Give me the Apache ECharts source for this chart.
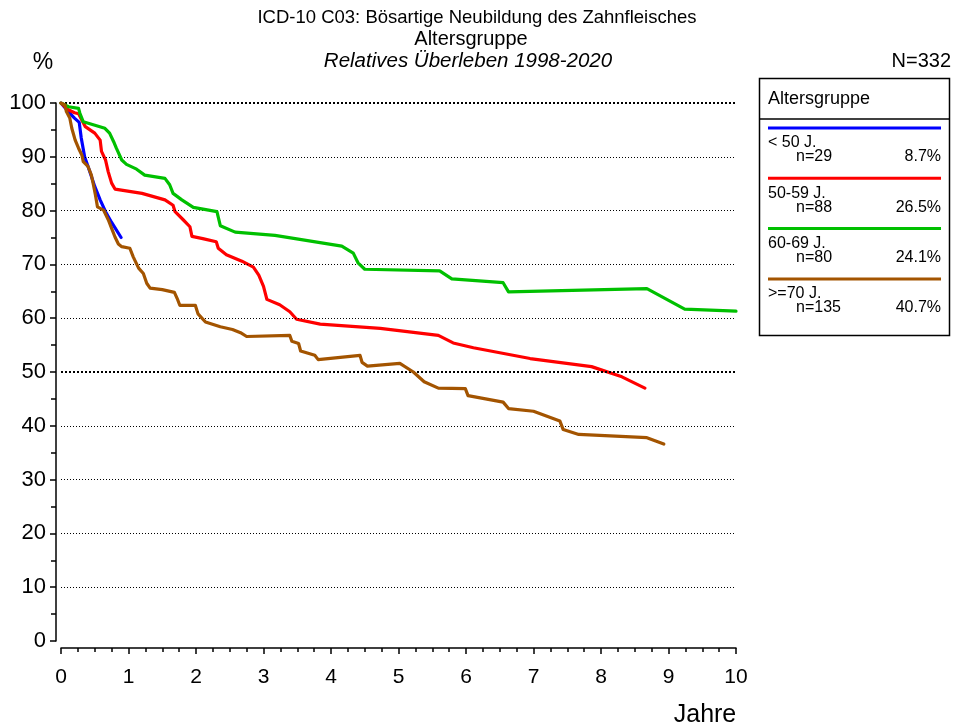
<!DOCTYPE html>
<html>
<head>
<meta charset="utf-8">
<script src="https://cdn.jsdelivr.net/npm/echarts@6/dist/echarts.min.js"></script>
<style>
  html, body { margin: 0; padding: 0; background: #fff; }
  #chart { width: 953px; height: 726px; }
</style>
</head>
<body>
<div id="chart"></div>
<script>
// Relative survival by age group, years since diagnosis
const groupNames = ['< 50 J.', '50-59 J.', '60-69 J.', '>=70 J.'];
const groupCounts = ['n=29', 'n=88', 'n=80', 'n=135'];
const groupShares = ['8.7%', '26.5%', '24.1%', '40.7%'];
const groupColors = ['#0000ff', '#ff0000', '#00c000', '#a35400'];

const under50 = [
  [0, 100], [0.1, 98.5], [0.2, 97.2], [0.27, 96.4], [0.3, 93.5], [0.35, 90],
  [0.42, 87.5], [0.5, 84.5], [0.58, 82], [0.66, 79.8], [0.75, 77.8], [0.89, 75]
];
const age50to59 = [
  [0, 100], [0.1, 98.8], [0.2, 98.2], [0.26, 98], [0.36, 95.6], [0.5, 94.4],
  [0.58, 93.1], [0.6, 91], [0.66, 89.4], [0.7, 87.2], [0.75, 85.1], [0.8, 84],
  [1.2, 83.2], [1.54, 82], [1.66, 81], [1.69, 79.8], [1.81, 78.3], [1.91, 77],
  [1.94, 75.2], [2.1, 74.8], [2.3, 74.2], [2.33, 73], [2.45, 71.8], [2.68, 70.6],
  [2.85, 69.5], [2.93, 68], [3.0, 65.9], [3.05, 63.5], [3.24, 62.5], [3.39, 61.2],
  [3.49, 59.8], [3.84, 58.9], [4.73, 58.1], [5.59, 56.8], [5.81, 55.4], [6.11, 54.5],
  [6.95, 52.5], [7.86, 51], [8.31, 49.1], [8.65, 47]
];
const age60to69 = [
  [0, 100], [0.11, 99.3], [0.26, 99], [0.28, 98.1], [0.33, 96.5], [0.65, 95.3],
  [0.72, 94.4], [0.78, 92.8], [0.82, 91.6], [0.9, 89.4], [0.97, 88.6], [1.12, 87.7],
  [1.24, 86.6], [1.54, 86], [1.61, 84.8], [1.66, 83.2], [1.79, 82], [1.96, 80.6],
  [2.31, 79.8], [2.36, 77.2], [2.58, 76], [3.17, 75.4], [4.16, 73.4], [4.33, 72.1],
  [4.4, 70.3], [4.5, 69.1], [5.61, 68.8], [5.79, 67.3], [6.55, 66.6], [6.63, 64.9],
  [8.68, 65.5], [9.24, 61.7], [10.0, 61.3]
];
const age70plus = [
  [0, 100], [0.06, 99.6], [0.08, 98.4], [0.13, 97.2], [0.16, 95.3], [0.21, 93.1],
  [0.26, 91.6], [0.31, 90.3], [0.33, 89.1], [0.4, 88.2], [0.45, 86.6], [0.48, 84.8],
  [0.51, 82.9], [0.54, 80.7], [0.63, 80.1], [0.7, 78.3], [0.75, 76.7], [0.8, 75.1],
  [0.85, 73.8], [0.9, 73.3], [1.02, 73], [1.07, 71.4], [1.15, 69.3], [1.22, 68.3],
  [1.27, 66.5], [1.32, 65.6], [1.5, 65.3], [1.68, 64.8], [1.72, 63.7], [1.76, 62.4],
  [1.99, 62.4], [2.03, 60.8], [2.14, 59.3], [2.36, 58.4], [2.54, 57.9], [2.66, 57.3],
  [2.75, 56.6], [3.39, 56.8], [3.42, 55.7], [3.52, 55.3], [3.55, 53.9], [3.76, 53.1],
  [3.81, 52.3], [4.43, 53.1], [4.46, 51.8], [4.54, 51.1], [5.02, 51.6], [5.22, 50],
  [5.38, 48.2], [5.59, 47], [5.99, 46.9], [6.03, 45.6], [6.55, 44.4], [6.63, 43.2],
  [7.0, 42.7], [7.39, 40.9], [7.44, 39.3], [7.67, 38.4], [8.68, 37.8], [8.93, 36.6]
];

// Reference levels drawn as dotted lines; the bold ones are emphasised
const gridLevels = [10, 20, 30, 40, 50, 60, 70, 80, 90, 100];
const boldLevels = [50, 100];

const FONT = '"Liberation Sans", Arial, sans-serif';
const seriesData = [under50, age50to59, age60to69, age70plus];

const chart = echarts.init(document.getElementById('chart'), null, { renderer: 'canvas' });

const series = seriesData.map((data, i) => ({
  type: 'line',
  name: groupNames[i],
  data: data,
  showSymbol: false,
  symbol: 'none',
  lineStyle: { color: groupColors[i], width: 3.2, join: 'round', cap: 'round' },
  itemStyle: { color: groupColors[i] },
  z: 3 + i,
  animation: false
}));

// Dotted level lines
series.unshift({
  type: 'line',
  data: [],
  silent: true,
  animation: false,
  z: 1,
  markLine: {
    silent: true,
    symbol: 'none',
    animation: false,
    label: { show: false },
    data: gridLevels.map(v => {
      const bold = boldLevels.includes(v);
      return {
        yAxis: v,
        lineStyle: {
          color: '#000',
          width: bold ? 2 : 1,
          type: bold ? [2, 2] : [1, 2]
        }
      };
    })
  }
});

// Legend box
const legendItems = [];
legendItems.push({
  type: 'rect',
  shape: { x: 759.5, y: 78.5, width: 190, height: 257 },
  style: { fill: '#fff', stroke: '#000', lineWidth: 1.5 }
});
legendItems.push({
  type: 'line',
  shape: { x1: 759.5, y1: 119, x2: 949.5, y2: 119 },
  style: { stroke: '#000', lineWidth: 1.5 }
});
legendItems.push({
  type: 'text', x: 768, y: 99,
  style: { text: 'Altersgruppe', font: '18px ' + FONT, fill: '#000', textVerticalAlign: 'middle' }
});
groupNames.forEach((name, i) => {
  const y0 = 128 + 50.3 * i;
  legendItems.push({
    type: 'line',
    shape: { x1: 768, y1: y0, x2: 941, y2: y0 },
    style: { stroke: groupColors[i], lineWidth: 3 }
  });
  legendItems.push({
    type: 'text', x: 768, y: y0 + 15,
    style: { text: name, font: '16px ' + FONT, fill: '#000', textVerticalAlign: 'middle' }
  });
  legendItems.push({
    type: 'text', x: 796, y: y0 + 29,
    style: { text: groupCounts[i], font: '16px ' + FONT, fill: '#000', textVerticalAlign: 'middle' }
  });
  legendItems.push({
    type: 'text', x: 941, y: y0 + 29,
    style: { text: groupShares[i], font: '16px ' + FONT, fill: '#000', textAlign: 'right', textVerticalAlign: 'middle' }
  });
});

const option = {
  backgroundColor: '#fff',
  animation: false,
  grid: { left: 61, top: 103, width: 675, height: 538, containLabel: false },
  xAxis: {
    type: 'value',
    min: 0, max: 10, interval: 1,
    offset: 7,
    axisLine: { show: true, onZero: false, lineStyle: { color: '#000', width: 1.5 } },
    axisTick: { show: true, inside: false, length: 6, lineStyle: { color: '#000', width: 1.5 } },
    minorTick: { show: true, splitNumber: 4, length: 4, lineStyle: { color: '#000', width: 1.5 } },
    axisLabel: { color: '#000', fontSize: 21, fontFamily: FONT, margin: 19 },
    splitLine: { show: false }
  },
  yAxis: {
    type: 'value',
    min: 0, max: 100, interval: 10,
    offset: 5,
    axisLine: { show: true, onZero: false, lineStyle: { color: '#000', width: 1.5 } },
    axisTick: { show: true, inside: false, length: 6, lineStyle: { color: '#000', width: 1.5 } },
    minorTick: { show: true, splitNumber: 2, length: 5, lineStyle: { color: '#000', width: 1.5 } },
    axisLabel: { color: '#000', fontSize: 22, fontFamily: FONT, margin: 10 },
    splitLine: { show: false }
  },
  series: series,
  graphic: [
    {
      type: 'text', x: 477, y: 18,
      style: { text: 'ICD-10 C03: Bösartige Neubildung des Zahnfleisches', font: '18.5px ' + FONT, fill: '#000', textAlign: 'center', textVerticalAlign: 'middle' }
    },
    {
      type: 'text', x: 471, y: 39,
      style: { text: 'Altersgruppe', font: '20px ' + FONT, fill: '#000', textAlign: 'center', textVerticalAlign: 'middle' }
    },
    {
      type: 'text', x: 468, y: 61,
      style: { text: 'Relatives Überleben 1998-2020', font: 'italic 20.5px ' + FONT, fill: '#000', textAlign: 'center', textVerticalAlign: 'middle' }
    },
    {
      type: 'text', x: 43, y: 63,
      style: { text: '%', font: '23px ' + FONT, fill: '#000', textAlign: 'center', textVerticalAlign: 'middle' }
    },
    {
      type: 'text', x: 951, y: 61,
      style: { text: 'N=332', font: '20px ' + FONT, fill: '#000', textAlign: 'right', textVerticalAlign: 'middle' }
    },
    {
      type: 'text', x: 705, y: 715,
      style: { text: 'Jahre', font: '25px ' + FONT, fill: '#000', textAlign: 'center', textVerticalAlign: 'middle' }
    },
    { type: 'group', children: legendItems }
  ]
};

chart.setOption(option);
</script>
</body>
</html>
